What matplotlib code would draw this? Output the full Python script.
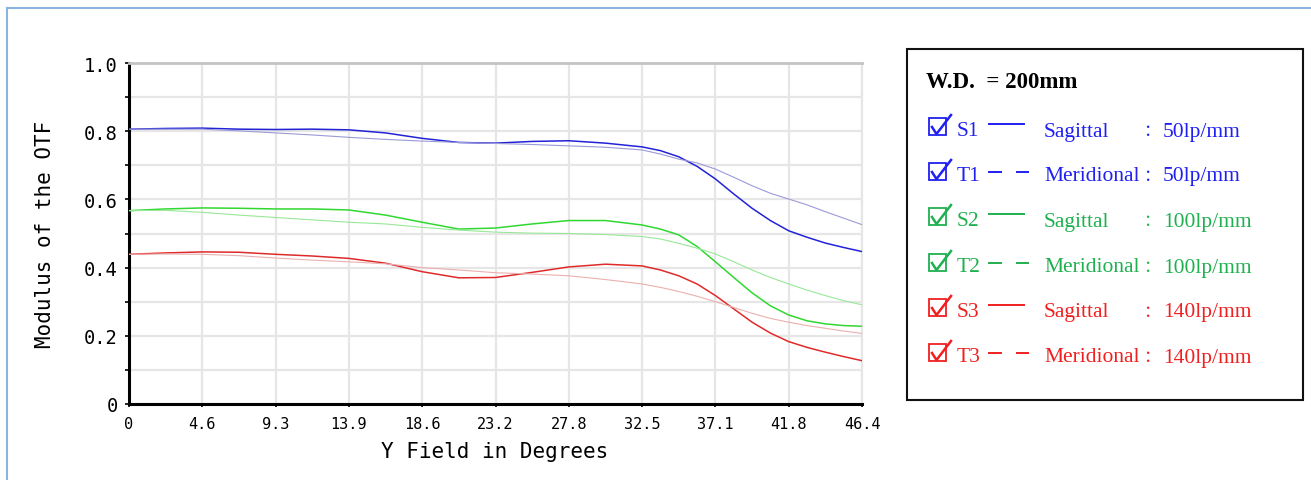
import matplotlib
matplotlib.use("Agg")
import matplotlib.pyplot as plt
from matplotlib.lines import Line2D
from matplotlib.patches import Rectangle

field = [0.0, 2.32, 4.64, 6.96, 9.28, 11.6, 13.92, 16.24, 18.56, 20.88, 23.2,
         25.52, 27.84, 30.16, 32.48, 33.64, 34.8, 35.96, 37.12, 38.28, 39.44,
         40.6, 41.76, 42.92, 44.08, 45.24, 46.4]

s1 = [0.806, 0.808, 0.809, 0.806, 0.805, 0.806, 0.804, 0.795, 0.779, 0.767, 0.765,
      0.770, 0.772, 0.765, 0.754, 0.743, 0.725, 0.697, 0.660, 0.616, 0.574,
      0.538, 0.508, 0.489, 0.472, 0.459, 0.447]
t1 = [0.806, 0.806, 0.806, 0.801, 0.795, 0.789, 0.782, 0.776, 0.771, 0.767, 0.764,
      0.761, 0.757, 0.753, 0.745, 0.733, 0.718, 0.707, 0.689, 0.665, 0.640,
      0.618, 0.601, 0.584, 0.564, 0.545, 0.526]
s2 = [0.567, 0.572, 0.575, 0.574, 0.572, 0.572, 0.569, 0.554, 0.533, 0.513, 0.516,
      0.528, 0.538, 0.538, 0.525, 0.513, 0.496, 0.462, 0.417, 0.371, 0.326,
      0.288, 0.261, 0.244, 0.235, 0.230, 0.228]
t2 = [0.567, 0.568, 0.562, 0.554, 0.547, 0.540, 0.533, 0.528, 0.518, 0.510, 0.504,
      0.501, 0.500, 0.497, 0.491, 0.484, 0.471, 0.457, 0.440, 0.417, 0.393,
      0.371, 0.352, 0.334, 0.318, 0.303, 0.291]
s3 = [0.439, 0.443, 0.446, 0.445, 0.439, 0.434, 0.427, 0.413, 0.388, 0.370, 0.371,
      0.386, 0.402, 0.410, 0.405, 0.393, 0.376, 0.352, 0.318, 0.279, 0.240,
      0.208, 0.183, 0.166, 0.152, 0.139, 0.127]
t3 = [0.439, 0.440, 0.439, 0.435, 0.428, 0.422, 0.417, 0.411, 0.400, 0.393, 0.385,
      0.381, 0.376, 0.365, 0.352, 0.342, 0.330, 0.316, 0.300, 0.283, 0.266,
      0.251, 0.240, 0.230, 0.222, 0.214, 0.207]

xticks = [0, 4.64, 9.28, 13.92, 18.56, 23.2, 27.84, 32.48, 37.12, 41.76, 46.4]
xtick_labels = ["0", "4.6", "9.3", "13.9", "18.6", "23.2", "27.8", "32.5", "37.1", "41.8", "46.4"]
yticks = [0, 0.2, 0.4, 0.6, 0.8, 1.0]
ytick_labels = ["0", "0.2", "0.4", "0.6", "0.8", "1.0"]

legend_names = ["S1", "T1", "S2", "T2", "S3", "T3"]
legend_kinds = ["Sagittal", "Meridional", "Sagittal", "Meridional", "Sagittal", "Meridional"]
legend_freqs = ["50lp/mm", "50lp/mm", "100lp/mm", "100lp/mm", "140lp/mm", "140lp/mm"]

W, H = 1311, 481
fig = plt.figure(figsize=(W / 100, H / 100), dpi=100)

def fx(px):
    return px / W

def fy(py):
    return 1 - py / H

# light blue outer frame
fig.add_artist(Line2D([fx(7), fx(7)], [fy(9), 0], color="#8ab4e0", lw=1.5))
fig.add_artist(Line2D([fx(7), 1], [fy(9), fy(9)], color="#8ab4e0", lw=1.5))

ax = fig.add_axes([fx(129), fy(405), fx(862) - fx(129), fy(64) - fy(405)])

curves = [
    (s1, "#2222d6", 1.1), (t1, "#9a9ad8", 0.8),
    (s2, "#30d830", 1.1), (t2, "#98e898", 0.8),
    (s3, "#e02a2a", 1.1), (t3, "#eab0b0", 0.8),
]
for vals, col, lw in curves:
    ax.plot(field, vals, color=col, lw=lw, zorder=3)

ax.set_xlim(0, 46.4)
ax.set_ylim(0, 1.0)
ax.set_xticks(xticks)
ax.set_xticklabels(xtick_labels)
ax.set_yticks([i / 10 for i in range(11)], minor=True)
ax.set_yticks(yticks)
ax.set_yticklabels(ytick_labels)
ax.grid(True, which="both", color="#e6e6e6", lw=1.6, zorder=0)
ax.set_axisbelow(True)

for lab in ax.get_xticklabels():
    lab.set_fontfamily("DejaVu Sans Mono")
    lab.set_fontsize(11)
for lab in ax.get_yticklabels():
    lab.set_fontfamily("DejaVu Sans Mono")
    lab.set_fontsize(13.5)
ax.tick_params(axis="x", which="both", length=2, width=1.2, pad=7, color="black")
ax.tick_params(axis="y", which="both", length=3, width=1.2, pad=5, color="black")

ax.spines["left"].set_linewidth(2.2)
ax.spines["bottom"].set_linewidth(2.2)
ax.spines["top"].set_color("#c4c4c4")
ax.spines["top"].set_linewidth(2)
ax.spines["right"].set_color("#e6e6e6")
ax.spines["right"].set_linewidth(1.6)

fig.text(fx(495), fy(452), "Y Field in Degrees", family="DejaVu Sans Mono",
         fontsize=15, ha="center", va="center")
fig.text(fx(45), fy(234), "Modulus of the OTF", family="DejaVu Sans Mono",
         fontsize=15, ha="center", va="center", rotation=90)

# legend panel
fig.add_artist(Rectangle((fx(907), fy(401)), fx(1303) - fx(907), fy(50) - fy(401),
                         fill=False, edgecolor="#111111", lw=1.5))
fig.text(fx(926), fy(82), "W.D.  = 200mm", family="Liberation Serif",
         fontweight="bold", fontsize=16.5, ha="left", va="center")

row_y = [132, 177, 222, 268, 313, 358]
row_col = ["#2020f0", "#2020f0", "#20b050", "#20b050", "#f02020", "#f02020"]
for i in range(6):
    y = row_y[i]
    c = row_col[i]
    # check box with tick
    fig.add_artist(Rectangle((fx(929), fy(y + 4)), fx(946) - fx(929), fy(y - 13) - fy(y + 4),
                             fill=False, edgecolor=c, lw=1.3))
    fig.add_artist(Line2D([fx(932), fx(936.5), fx(951)], [fy(y - 4), fy(y + 3), fy(y - 16)],
                          color=c, lw=1.8))
    fig.text(fx(957), fy(y), legend_names[i], family="Liberation Serif",
             fontsize=15.5, color=c, ha="left", va="center")
    if legend_kinds[i] == "Sagittal":
        fig.add_artist(Line2D([fx(989), fx(1024)], [fy(y - 7), fy(y - 7)], color=c, lw=1.4))
    else:
        fig.add_artist(Line2D([fx(989), fx(1001)], [fy(y - 4), fy(y - 4)], color=c, lw=1.4))
        fig.add_artist(Line2D([fx(1017), fx(1028)], [fy(y - 4), fy(y - 4)], color=c, lw=1.4))
    fig.text(fx(1044), fy(y), legend_kinds[i], family="Liberation Serif",
             fontsize=15.5, color=c, ha="left", va="center")
    fig.text(fx(1151), fy(y), "：", family=["Noto Sans CJK SC", "DejaVu Sans"],
             fontsize=12, color=c, ha="center", va="center")
    fig.text(fx(1163), fy(y), legend_freqs[i], family="Liberation Serif",
             fontsize=15.5, color=c, ha="left", va="center")

fig.savefig("out.png", dpi=100)
